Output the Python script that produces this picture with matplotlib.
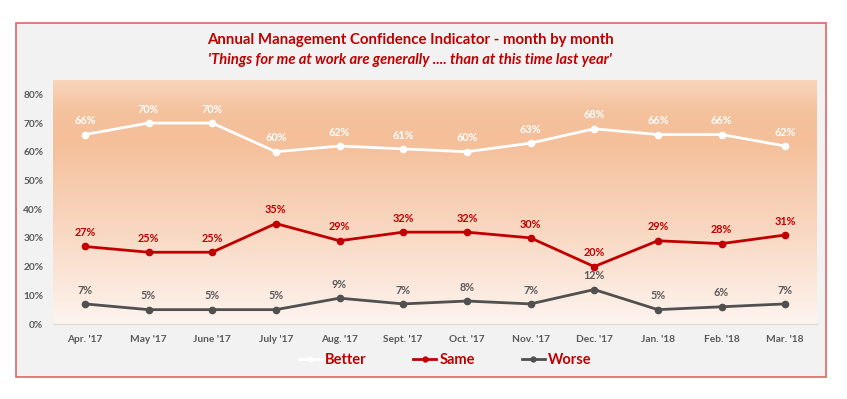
import numpy as np
import matplotlib
matplotlib.use("Agg")
import matplotlib.pyplot as plt
from matplotlib.patches import Rectangle
from matplotlib.colors import LinearSegmentedColormap
from matplotlib.lines import Line2D

plt.rcParams['font.family'] = ['Lato', 'DejaVu Sans']

months = ["Apr. '17", "May '17", "June '17", "July '17", "Aug. '17", "Sept. '17",
          "Oct. '17", "Nov. '17", "Dec. '17", "Jan. '18", "Feb. '18", "Mar. '18"]
better = [66, 70, 70, 60, 62, 61, 60, 63, 68, 66, 66, 62]
same = [27, 25, 25, 35, 29, 32, 32, 30, 20, 29, 28, 31]
worse = [7, 5, 5, 5, 9, 7, 8, 7, 12, 5, 6, 7]
yticks = [0, 10, 20, 30, 40, 50, 60, 70, 80]

RED = '#C00000'
GRAY = '#505050'
TXTGRAY = '#595959'

W, H = 847, 399
fig = plt.figure(figsize=(W / 100, H / 100), dpi=100)
fig.patch.set_facecolor('white')

# outer frame
fig.patches.append(Rectangle((16 / W, 1 - 377 / H), (826 - 16) / W, (377 - 23) / H,
                             transform=fig.transFigure, facecolor='#f2f2f2',
                             edgecolor='#e06666', linewidth=1.2, zorder=-5))

ax = fig.add_axes([53 / W, 1 - 324 / H, (817 - 53) / W, (324 - 80) / H])
ax.set_zorder(2)
ax.set_facecolor('none')
x = np.arange(len(months))
ax.set_xlim(-0.5, len(months) - 0.5)
ax.set_ylim(0, 85)

# gradient background
cmap = LinearSegmentedColormap.from_list('g', [
    (0.0, '#fdf4ef'), (0.35, '#f9dac6'), (0.75, '#f4bf99'), (0.88, '#f5c29e'), (1.0, '#f8d5bc')])
grad = np.linspace(0, 1, 256).reshape(-1, 1)
ax.imshow(grad, aspect='auto', cmap=cmap, origin='lower',
          extent=[-0.5, len(months) - 0.5, 0, 85], zorder=0)

series = [(better, 'white', 'white', 'Better'),
          (same, RED, RED, 'Same'),
          (worse, GRAY, TXTGRAY, 'Worse')]
for vals, col, tcol, name in series:
    ax.plot(x, vals, color=col, lw=2.0, marker='o', ms=4.5, zorder=3, label=name)
    for xi, v in zip(x, vals):
        ax.annotate(f"{v}%", (xi, v), xytext=(0, 6), textcoords='offset points',
                    ha='center', va='bottom', fontsize=7.8, color=tcol,
                    fontweight='bold', zorder=4)

ax.set_yticks(yticks)
ax.set_yticklabels([f"{t}%" for t in yticks])
ax.set_xticks(x)
ax.set_xticklabels(months)
ax.tick_params(axis='both', length=0, labelsize=7.3, colors=TXTGRAY)
for lab in ax.get_xticklabels() + ax.get_yticklabels():
    lab.set_fontweight('bold')
ax.tick_params(axis='y', pad=7)
ax.tick_params(axis='x', pad=8)
for s in ['left', 'right', 'top']:
    ax.spines[s].set_visible(False)
ax.spines['bottom'].set_color('#d9d9d9')
ax.spines['bottom'].set_zorder(1)

fig.text(410 / W, 1 - 40 / H, "Annual Management Confidence Indicator - month by month",
         ha='center', va='center', color=RED, fontsize=10.8, fontweight='bold')
fig.text(410 / W, 1 - 60 / H, "'Things for me at work are generally .... than at this time last year'",
         ha='center', va='center', color=RED, fontsize=10.6, fontweight='bold', style='italic')

handles = [Line2D([0], [0], color=c, lw=2.0, marker='o', ms=3.5) for _, c, _, _ in series]
leg = fig.legend(handles, [s[3] for s in series], loc='center', bbox_to_anchor=(445 / W, 1 - 360 / H),
                 ncol=3, frameon=False, handlelength=1.6, handletextpad=0.2, columnspacing=3.2,
                 prop={'size': 10.5, 'weight': 'bold'})
for t in leg.get_texts():
    t.set_color(RED)

fig.savefig('out.png', dpi=100)
